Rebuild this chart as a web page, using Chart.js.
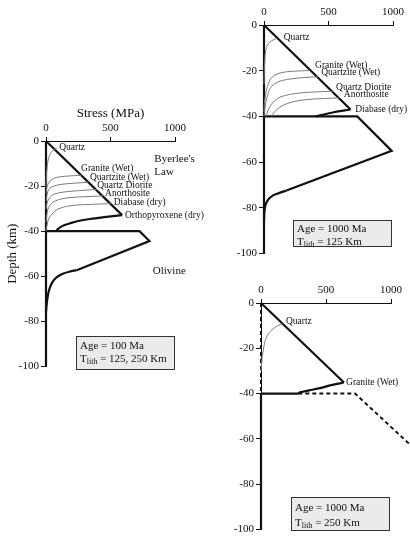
<!DOCTYPE html>
<html>
<head>
<meta charset="utf-8">
<script src="https://cdn.jsdelivr.net/npm/chart.js@4.4.1/dist/chart.umd.min.js"></script>
<style>
  body { margin: 0; background: #fff; width: 410px; height: 538px; position: relative; overflow: hidden; font-family: "Liberation Serif", serif; }
  canvas { position: absolute; }
  .box { position: absolute; background: #ebebeb; border: 1px solid #333; box-sizing: border-box; color: #111; font-size: 11px; line-height: 13px; padding: 1px 3px; white-space: nowrap; will-change: transform; }
  .box sub { font-size: 8px; line-height: 0; vertical-align: -2px; color: #111; }
</style>
</head>
<body>
<canvas id="c1" width="215" height="275" style="left:0;top:100px"></canvas>
<canvas id="c2" width="185" height="262" style="left:225px;top:0"></canvas>
<canvas id="c3" width="188" height="258" style="left:222px;top:280px"></canvas>

<div class="box" style="left:76px;top:336px;width:99px;height:34px;padding-top:2px">Age = 100 Ma<br>T<sub>lith</sub> = 125, 250 Km</div>
<div class="box" style="left:293px;top:220px;width:99px;height:27px">Age = 1000 Ma<br>T<sub>lith</sub> = 125 Km</div>
<div class="box" style="left:291px;top:497px;width:99px;height:34px;padding-top:2px;line-height:15px">Age = 1000 Ma<br>T<sub>lith</sub> = 250 Km</div>

<script>
// axes
const xTicks = [0, 500, 1000];
const yTicks = [0, -20, -40, -60, -80, -100];

// panel 1: Age = 100 Ma  [stress MPa, depth km]
const p1Byerlee = [[0, 0], [590, -32.9]];
const p1Quartz = [[84, -3.2], [60, -4], [40, -5.1], [20, -7.6], [10, -11], [4, -15], [0, -20]];
const p1Granite = [[276, -15.2], [180, -15.5], [110, -15.9], [60, -16.6], [30, -17.8], [13, -19.3], [5, -21], [0, -23]];
const p1Quartzite = [[328, -18.3], [200, -18.8], [110, -19.3], [60, -20], [33, -20.8], [15, -22.3], [7, -24], [0, -26.6]];
const p1Diorite = [[392, -21.5], [260, -22], [161, -22.5], [100, -23], [59, -23.7], [35, -24.7], [20, -25.9], [8, -27.5], [0, -30]];
const p1Anorthosite = [[443, -24.4], [300, -24.7], [187, -25.1], [120, -25.7], [72, -26.6], [45, -27.6], [28, -28.8], [14, -30.5], [7, -32.5], [0, -36]];
const p1Diabase = [[502, -27.8], [360, -28.1], [238, -28.4], [160, -29], [110, -29.8], [70, -31], [45, -32.5], [25, -34], [13, -36], [5, -38], [0, -40]];
const p1Opx = [[590, -32.9], [450, -33.8], [341, -34.6], [250, -35.5], [187, -36.5], [140, -37.4], [110, -38.3], [90, -39.2], [79, -40]];
const p1Moho = [[0, -40], [725, -40], [802, -44.4], [238, -57.3]];
const p1Olivine = [[238, -57.3], [180, -58], [135, -58.8], [100, -59.8], [72, -61], [50, -62.6], [33, -64.6], [20, -67], [12, -69.5], [5, -72.5], [0, -76]];
const p1Axis = [[0, 0], [0, -100]];
const p1Labels = [['Quartz', 102, -3.0], ['Granite (Wet)', 272, -12.4], ['Quartzite (Wet)', 341, -16.1],
  ['Quartz Diorite', 397, -19.7], ['Anorthosite', 458, -23.4], ['Diabase (dry)', 525, -27.1], ['Orthopyroxene (dry)', 612, -32.9]];
const p1Notes = [["Byerlee's", 840, -8.0], ['Law', 840, -13.9], ['Olivine', 828, -57.8]];

// panel 2: Age = 1000 Ma, T_lith = 125 Km
const p2Byerlee = [[0, 0], [671, -37]];
const p2Quartz = [[100, -5.9], [70, -6.6], [42, -7.6], [25, -9], [16, -10.6], [9, -13], [5, -16.5], [2, -21], [0, -26]];
const p2Granite = [[358, -19.9], [280, -20.1], [210, -20.3], [140, -20.8], [93, -21.7], [60, -23], [42, -24.6], [26, -27], [16, -29], [8, -32], [3, -34.5], [0, -38]];
const p2Quartzite = [[417, -22.7], [310, -23], [210, -23.6], [140, -24.3], [93, -25.4], [60, -26.8], [42, -28.3], [26, -31], [16, -33.3], [8, -36], [3, -38.4], [0, -40]];
const p2Diorite = [[534, -29], [400, -29.3], [287, -29.7], [200, -30.4], [132, -31.4], [95, -32.6], [68, -34], [45, -35.8], [29, -37.7], [18, -40]];
const p2Anorthosite = [[586, -31.9], [460, -32.2], [340, -32.6], [250, -33.3], [184, -34.3], [140, -35.4], [106, -36.7], [84, -37.9], [68, -39.1], [60, -40]];
const p2Diabase = [[671, -37], [540, -38.2], [400, -40]];
const p2Moho = [[0, -40], [723, -40], [990, -55.1], [174, -72.5]];
const p2Olivine = [[174, -72.5], [120, -73.5], [70, -74.6], [40, -76], [18, -77.8], [8, -79.8], [3, -82], [0, -86]];
const p2Axis = [[0, 0], [0, -100]];
const p2Labels = [['Quartz', 153, -5.3], ['Granite (Wet)', 396, -17.7], ['Quartzite (Wet)', 443, -21],
  ['Quartz Diorite', 559, -27.3], ['Anorthosite', 619, -30.6], ['Diabase (dry)', 707, -37]];

// panel 3: Age = 1000 Ma, T_lith = 250 Km
const p3Byerlee = [[0, 0], [638, -35.1]];
const p3Quartz = [[167, -9.2], [130, -10], [95, -11.3], [65, -13], [44, -14.9], [28, -17.5], [18, -20.8], [10, -23.5], [5, -26.6], [0, -30]];
const p3Granite = [[638, -35.1], [540, -36.3], [454, -37.6], [370, -38.6], [300, -39.5], [287, -40]];
const p3Moho = [[0, -40], [287, -40]];
const p3Mantle = [[287, -40], [723, -40], [1146, -62.5]];
const p3Crust = [[0, 0], [0, -40]];
const p3Axis = [[0, -40], [0, -100]];
const p3Labels = [['Quartz', 192, -8.3], ['Granite (Wet)', 654, -35.1]];

const BLACK = '#111', GRAY = '#7a7a7a';
const thick = (pts, extra) => Object.assign({ pts: pts, color: BLACK, w: 2.2 }, extra || {});
const thin = pts => ({ pts: pts, color: GRAY, w: 1, t: 0.35 });

const textPlugin = {
  id: 'curveText',
  afterDatasetsDraw(chart, args, opts) {
    const { ctx, scales: { x, y } } = chart;
    ctx.save();
    ctx.fillStyle = BLACK;
    ctx.textBaseline = 'middle';
    ctx.textAlign = 'left';
    (opts.groups || []).forEach(g => {
      ctx.font = g.size + 'px "Liberation Serif"';
      g.items.forEach(([txt, sx, sy]) => ctx.fillText(txt, x.getPixelForValue(sx), y.getPixelForValue(sy)));
    });
    ctx.restore();
  }
};

function makeChart(id, cfg) {
  const sets = cfg.lines.map(l => ({
    data: l.pts.map(p => ({ x: p[0], y: p[1] })),
    showLine: true, fill: false, clip: false,
    borderColor: l.color, borderWidth: l.w, borderDash: l.dash || [],
    tension: l.t || 0, pointRadius: 0, borderCapStyle: 'butt', borderJoinStyle: 'miter'
  }));
  const tickFont = { family: 'Liberation Serif', size: 11 };
  return new Chart(document.getElementById(id), {
    type: 'scatter',
    data: { datasets: sets },
    plugins: [textPlugin],
    options: {
      responsive: false, animation: false, devicePixelRatio: 1,
      layout: { padding: { left: 0, top: 0, right: cfg.padR, bottom: cfg.padB } },
      plugins: { legend: { display: false }, tooltip: { enabled: false }, curveText: { groups: cfg.text } },
      scales: {
        x: {
          type: 'linear', position: 'top', min: 0, max: 1000,
          afterBuildTicks: s => { s.ticks = xTicks.map(v => ({ value: v })); },
          afterFit: s => { s.height = cfg.top; },
          grid: { drawOnChartArea: false, drawTicks: true, tickLength: 4, color: BLACK },
          border: { display: true, color: BLACK, width: 1 },
          ticks: { color: BLACK, font: tickFont, padding: 2, maxRotation: 0, autoSkip: false, callback: v => String(v) },
          title: { display: !!cfg.xTitle, text: cfg.xTitle, color: BLACK, font: { family: 'Liberation Serif', size: 13 }, padding: { top: 6, bottom: 0 } }
        },
        y: {
          type: 'linear', position: 'left', min: -100, max: 0,
          afterBuildTicks: s => { s.ticks = yTicks.map(v => ({ value: v })); },
          afterFit: s => { s.width = cfg.left; },
          grid: { drawOnChartArea: false, drawTicks: true, tickLength: 5, color: BLACK },
          border: { display: true, color: BLACK, width: 1 },
          ticks: { color: BLACK, font: tickFont, padding: 2, autoSkip: false, callback: v => String(v) },
          title: { display: !!cfg.yTitle, text: cfg.yTitle, color: BLACK, font: { family: 'Liberation Serif', size: 13 }, padding: { top: 5, bottom: 0 } }
        }
      }
    }
  });
}

makeChart('c1', {
  left: 46, top: 41, padR: 40, padB: 6, xTitle: 'Stress (MPa)', yTitle: 'Depth (km)',
  lines: [thin(p1Quartz), thin(p1Granite), thin(p1Quartzite), thin(p1Diorite), thin(p1Anorthosite), thin(p1Diabase),
    thick(p1Axis), thick(p1Byerlee), thick(p1Opx, { t: 0.35 }), thick(p1Moho), thick(p1Olivine, { t: 0.35 })],
  text: [{ size: 9.5, items: p1Labels }, { size: 11, items: p1Notes }]
});

makeChart('c2', {
  left: 39, top: 25, padR: 17, padB: 7,
  lines: [thin(p2Quartz), thin(p2Granite), thin(p2Quartzite), thin(p2Diorite), thin(p2Anorthosite),
    thick(p2Axis), thick(p2Byerlee), thick(p2Diabase, { t: 0.2 }), thick(p2Moho), thick(p2Olivine, { t: 0.35 })],
  text: [{ size: 9.5, items: p2Labels }]
});

makeChart('c3', {
  left: 39, top: 23, padR: 19, padB: 8,
  lines: [thin(p3Quartz), thick(p3Crust, { dash: [4, 3], w: 2 }), thick(p3Axis), thick(p3Byerlee),
    thick(p3Granite, { t: 0.3 }), thick(p3Moho), thick(p3Mantle, { dash: [4, 3], w: 2 })],
  text: [{ size: 9.5, items: p3Labels }]
});
</script>
</body>
</html>
